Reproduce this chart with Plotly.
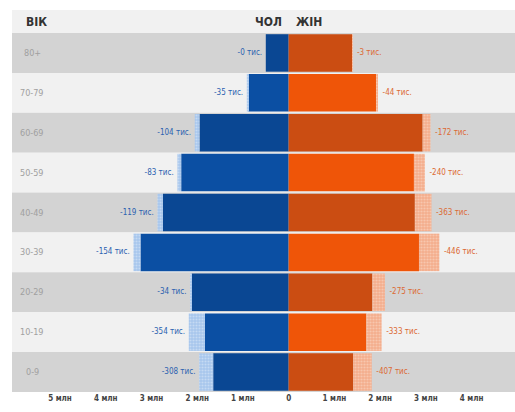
import plotly.graph_objects as go

ages = ["80+", "70-79", "60-69", "50-59", "40-49", "30-39", "20-29", "10-19", "0-9"]
men = [0.50, 0.88, 1.95, 2.35, 2.75, 3.24, 2.12, 1.83, 1.65]          # млн, current
men_loss = [0, 35, 104, 83, 119, 154, 34, 354, 308]                  # тис.
women = [1.39, 1.91, 2.93, 2.74, 2.76, 2.85, 1.83, 1.70, 1.41]        # млн, current
women_loss = [3, 44, 172, 240, 363, 446, 275, 333, 407]              # тис.
tick_vals = [-5, -4, -3, -2, -1, 0, 1, 2, 3, 4, 5]
tick_text = ["5 млн", "4 млн", "3 млн", "2 млн", "1 млн", "0", "1 млн", "2 млн", "3 млн", "4 млн", "5 млн"]

FONT = "Liberation Sans Narrow, DejaVu Sans Condensed, Roboto, sans-serif"
BAND_DARK = "#d3d3d3"
BAND_LIGHT = "#f1f1f1"

blue_cols = ["#0a4793" if i % 2 == 0 else "#0b4fa3" for i in range(len(ages))]
orange_cols = ["#cb4d12" if i % 2 == 0 else "#ef5508" for i in range(len(ages))]

fig = go.Figure()

fig.add_trace(go.Bar(
    y=ages, x=[-v for v in men], orientation="h",
    marker=dict(color=blue_cols, line=dict(width=0)), hoverinfo="skip", showlegend=False))
fig.add_trace(go.Bar(
    y=ages, x=[-l / 1000 for l in men_loss], orientation="h",
    marker=dict(color="#a6c6ec", line=dict(width=0),
                pattern=dict(shape=".", fgcolor="#e4eefa", bgcolor="#a6c6ec", size=3, solidity=0.4)),
    hoverinfo="skip", showlegend=False))
fig.add_trace(go.Bar(
    y=ages, x=women, orientation="h",
    marker=dict(color=orange_cols, line=dict(width=0)), hoverinfo="skip", showlegend=False))
fig.add_trace(go.Bar(
    y=ages, x=[l / 1000 for l in women_loss], orientation="h",
    marker=dict(color="#f3ae8c", line=dict(width=0),
                pattern=dict(shape=".", fgcolor="#fbe0d2", bgcolor="#f3ae8c", size=3, solidity=0.4)),
    hoverinfo="skip", showlegend=False))

# loss labels
fig.add_trace(go.Scatter(
    y=ages, x=[-(v + l / 1000) - 0.08 for v, l in zip(men, men_loss)], mode="text",
    text=[f"-{l} тис." for l in men_loss], textposition="middle left",
    textfont=dict(family=FONT, size=8, color="#2c62b0"), cliponaxis=False,
    hoverinfo="skip", showlegend=False))
fig.add_trace(go.Scatter(
    y=ages, x=[(v + l / 1000) + 0.1 for v, l in zip(women, women_loss)], mode="text",
    text=[f"-{l} тис." for l in women_loss], textposition="middle right",
    textfont=dict(family=FONT, size=8, color="#dc6a34"), cliponaxis=False,
    hoverinfo="skip", showlegend=False))

shapes = []
for i, a in enumerate(ages):
    shapes.append(dict(type="rect", xref="paper", yref="y", x0=0, x1=1,
                       y0=i - 0.5, y1=i + 0.5, fillcolor=BAND_DARK if i % 2 == 0 else BAND_LIGHT,
                       line=dict(width=0), layer="below"))
# header band
shapes.append(dict(type="rect", xref="paper", yref="paper", x0=0, x1=1, y0=1, y1=1 + 23 / 359,
                   fillcolor=BAND_LIGHT, line=dict(width=0), layer="below"))

annotations = []
for a in ages:
    annotations.append(dict(xref="paper", yref="y", x=0.04, y=a, text=a, showarrow=False,
                            xanchor="center", font=dict(family=FONT, size=9, color="#a0a0a0")))
annotations += [
    dict(xref="paper", yref="paper", x=0.048, y=1 + 11.5 / 359, text="<b>ВІК</b>", showarrow=False,
         xanchor="center", yanchor="middle", font=dict(family=FONT, size=12, color="#333333")),
    dict(xref="x", yref="paper", x=-0.1, y=1 + 11.5 / 359, text="<b>ЧОЛ</b>", showarrow=False,
         xanchor="right", yanchor="middle", font=dict(family=FONT, size=12, color="#333333")),
    dict(xref="x", yref="paper", x=0.12, y=1 + 11.5 / 359, text="<b>ЖІН</b>", showarrow=False,
         xanchor="left", yanchor="middle", font=dict(family=FONT, size=12, color="#333333")),
]

fig.update_layout(
    width=515, height=412,
    margin=dict(l=12, r=0, t=33, b=20, autoexpand=False),
    barmode="relative", bargap=0.06,
    paper_bgcolor="white", plot_bgcolor="white",
    shapes=shapes, annotations=annotations,
    xaxis=dict(range=[-6.05, 4.95], tickvals=tick_vals, ticktext=tick_text, automargin=False,
               showgrid=False, zeroline=False, showline=False, ticks="", ticklen=0,
               tickfont=dict(family=FONT, size=8, color="#444444", weight=700)),
    yaxis=dict(categoryorder="array", categoryarray=ages, range=[8.5, -0.5], automargin=False,
               showticklabels=False, showgrid=False, zeroline=False, showline=False),
)

fig.write_html("out.html", config={"displayModeBar": False},
               post_script="document.body.style.margin='0';document.body.style.overflow='hidden';")
